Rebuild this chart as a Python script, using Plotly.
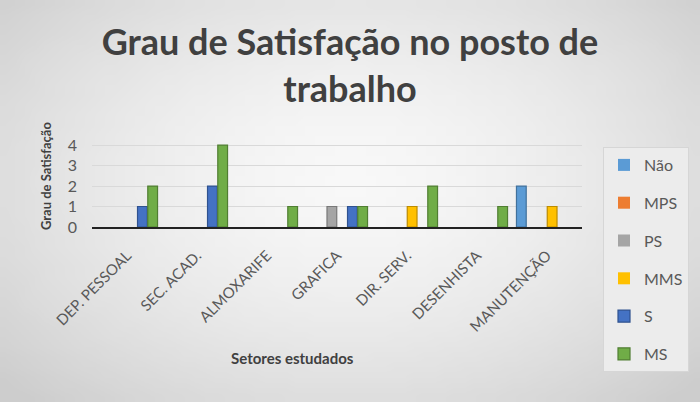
import base64
import struct
import zlib

import plotly.graph_objects as go

categories = ["DEP. PESSOAL", "SEC. ACAD.", "ALMOXARIFE", "GRAFICA", "DIR. SERV.", "DESENHISTA", "MANUTENÇÃO"]
series_names = ["Não", "MPS", "PS", "MMS", "S", "MS"]
nao = [0, 0, 0, 0, 0, 0, 2]
mps = [0, 0, 0, 0, 0, 0, 0]
ps = [0, 0, 0, 1, 0, 0, 0]
mms = [0, 0, 0, 0, 1, 0, 1]
s = [1, 2, 0, 1, 0, 0, 0]
ms = [2, 4, 1, 1, 2, 1, 0]
y_ticks = [0, 1, 2, 3, 4]

series_values = [nao, mps, ps, mms, s, ms]
colors = ["#5B9BD5", "#ED7D31", "#A5A5A5", "#FFC000", "#4472C4", "#70AD47"]
edges = ["#41719C", "#AE5A21", "#787878", "#BC8C00", "#2F528F", "#507E32"]


def gradient_png(w=70, h=40, inner=248, outer=205):
    rows = b""
    for j in range(h):
        rows += b"\x00"
        for i in range(w):
            dx = (i + 0.5) / w - 0.5
            dy = (j + 0.5) / h - 0.45
            t = min(1.0, ((dx / 0.5) ** 2 + (dy / 0.55) ** 2) ** 0.5 / 1.35)
            v = int(round(inner + (outer - inner) * t ** 1.6))
            rows += bytes([v, v, v])

    def chunk(tag, data):
        c = struct.pack(">I", len(data)) + tag + data
        return c + struct.pack(">I", zlib.crc32(tag + data) & 0xFFFFFFFF)

    png = b"\x89PNG\r\n\x1a\n"
    png += chunk(b"IHDR", struct.pack(">IIBBBBB", w, h, 8, 2, 0, 0, 0))
    png += chunk(b"IDAT", zlib.compress(rows, 9))
    png += chunk(b"IEND", b"")
    return "data:image/png;base64," + base64.b64encode(png).decode()


fig = go.Figure()
for name, vals, c, e in zip(series_names, series_values, colors, edges):
    fig.add_trace(go.Bar(
        x=categories, y=vals, name=name, legendgroup=name,
        marker=dict(color=c, line=dict(color=e, width=[1.2 if v else 0 for v in vals])),
    ))

font_family = "Lato, 'Open Sans', sans-serif"
L, R, T, B = 92, 118, 141, 175
W, H = 700, 402
pw = W - L - R
ph = H - T - B


def px_x(x):
    return (x - L) / pw


def px_y(y):
    return (H - B - y) / ph


fig.update_layout(
    width=W, height=H,
    paper_bgcolor="#e8e8e8", plot_bgcolor="rgba(0,0,0,0)",
    barmode="group", bargap=0.12, bargroupgap=0.05,
    margin=dict(l=L, r=R, t=T, b=B),
    font=dict(family=font_family, color="#595959"),
    images=[dict(
        source=gradient_png(), xref="paper", yref="paper",
        x=px_x(0), y=px_y(0), sizex=W / pw, sizey=H / ph,
        xanchor="left", yanchor="top", sizing="stretch", layer="below",
    )],
    title=dict(
        text="<b>Grau de Satisfação no posto de<br>trabalho</b>",
        x=0.5, xref="container", xanchor="center", y=0.862, yanchor="top",
        font=dict(size=36, color="#404040", family=font_family),
    ),
    legend=dict(
        x=603 / W, xref="container", xanchor="left",
        y=1 - 147 / H, yref="container", yanchor="top",
        maxheight=300,
        bgcolor="#ececec", bordercolor="#d6d6d6", borderwidth=1,
        font=dict(size=16, color="#595959"),
        tracegroupgap=14,
    ),
    xaxis=dict(
        automargin=False,
        tickangle=-45, tickfont=dict(size=15, color="#595959"),
        ticks="outside", ticklen=12, tickcolor="rgba(0,0,0,0)",
        showline=True, linecolor="#222222", linewidth=2,
    ),
    yaxis=dict(
        automargin=False,
        range=[0, 4.2], tickvals=y_ticks, tickfont=dict(size=16, color="#595959"),
        ticklabelstandoff=14,
        showgrid=True, gridcolor="#d9d9d9", zeroline=False,
    ),
    annotations=[
        dict(text="<b>Setores estudados</b>", x=px_x(292), y=px_y(358), xref="paper", yref="paper",
             showarrow=False, xanchor="center", yanchor="middle",
             font=dict(size=15, color="#404040")),
        dict(text="<b>Grau de Satisfação</b>", x=px_x(46), y=px_y(176), xref="paper", yref="paper",
             showarrow=False, xanchor="center", yanchor="middle", textangle=-90,
             font=dict(size=13, color="#404040")),
    ],
)
fig.write_html(
    "out.html",
    config={"displayModeBar": False},
    post_script="document.body.style.margin='0';document.body.style.overflow='hidden';",
)
